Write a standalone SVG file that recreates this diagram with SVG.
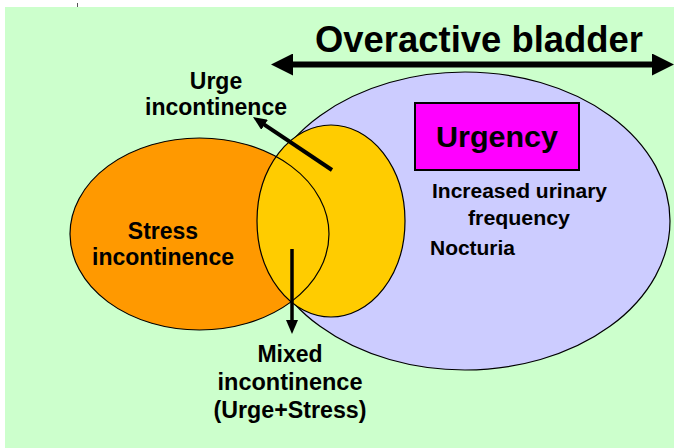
<svg xmlns="http://www.w3.org/2000/svg" width="674" height="448" viewBox="0 0 674 448">
  <style>
    .t { font-family: "Liberation Sans", Arial, sans-serif; font-weight: bold; fill: #000; text-anchor: middle; }
    .ol { fill: none; stroke: #000; stroke-width: 1.2; }
    .arr { stroke: #000; fill: none; }
  </style>
  <defs>
    <marker id="sm" viewBox="0 0 14 12" markerUnits="userSpaceOnUse" markerWidth="14" markerHeight="12" refX="4" refY="6" orient="auto">
      <path d="M0,0 L14,6 L0,12 z" fill="#000"/>
    </marker>
    <marker id="big" viewBox="0 0 22 22" markerUnits="userSpaceOnUse" markerWidth="22" markerHeight="22" refX="4" refY="11" orient="auto-start-reverse">
      <path d="M0,0 L22,11 L0,22 z" fill="#000"/>
    </marker>
  </defs>

  <rect x="0" y="0" width="674" height="448" fill="#fff"/>
  <rect id="background" x="5" y="7" width="669" height="441" fill="#CCFFCC"/>
  <line x1="77.5" y1="3" x2="77.5" y2="7" stroke="#555" stroke-width="1"/>

  <g id="overactive-bladder">
    <ellipse cx="465" cy="221" rx="205" ry="149" fill="#CCCCFF" stroke="#000" stroke-width="1.2"/>
  </g>
  <g id="stress">
    <ellipse cx="199.5" cy="234" rx="129.5" ry="96" fill="#FF9900"/>
  </g>
  <g id="urge">
    <ellipse cx="331" cy="221" rx="74" ry="96" fill="#FFCC00"/>
  </g>
  <g id="outlines">
    <ellipse class="ol" cx="199.5" cy="234" rx="129.5" ry="96"/>
    <ellipse class="ol" cx="331" cy="221" rx="74" ry="96"/>
  </g>

  <g id="urgency">
    <rect x="415" y="103" width="164" height="67" fill="#FF00FF" stroke="#000" stroke-width="2"/>
    <text class="t" x="497" y="147" font-size="30" textLength="122" lengthAdjust="spacingAndGlyphs">Urgency</text>
  </g>

  <g id="symptoms">
    <text class="t" x="519.5" y="198" font-size="20" textLength="175" lengthAdjust="spacingAndGlyphs">Increased urinary</text>
    <text class="t" x="519" y="225" font-size="20" textLength="102" lengthAdjust="spacingAndGlyphs">frequency</text>
    <text class="t" x="430" y="255" font-size="20" style="text-anchor:start" textLength="85" lengthAdjust="spacingAndGlyphs">Nocturia</text>
  </g>

  <g id="title">
    <text class="t" x="479" y="52" font-size="36" textLength="328" lengthAdjust="spacingAndGlyphs">Overactive bladder</text>
  </g>

  <g id="urge-label">
    <text class="t" x="216" y="89" font-size="23">Urge</text>
    <text class="t" x="216" y="115" font-size="23" textLength="142" lengthAdjust="spacingAndGlyphs">incontinence</text>
  </g>

  <g id="stress-label">
    <text class="t" x="163" y="239" font-size="23">Stress</text>
    <text class="t" x="163" y="265" font-size="23" textLength="142" lengthAdjust="spacingAndGlyphs">incontinence</text>
  </g>

  <g id="mixed-label">
    <text class="t" x="290" y="362" font-size="23">Mixed</text>
    <text class="t" x="290" y="390" font-size="23" textLength="145" lengthAdjust="spacingAndGlyphs">incontinence</text>
    <text class="t" x="290" y="418" font-size="23" textLength="153" lengthAdjust="spacingAndGlyphs">(Urge+Stress)</text>
  </g>

  <g id="connectors">
    <line class="arr" x1="289" y1="64.5" x2="656" y2="64.5" stroke-width="6" marker-start="url(#big)" marker-end="url(#big)"/>
    <line class="arr" x1="332" y1="170" x2="261.3" y2="122.6" stroke-width="4" marker-end="url(#sm)"/>
    <line class="arr" x1="292" y1="249" x2="292" y2="324" stroke-width="3.5" marker-end="url(#sm)"/>
  </g>
</svg>
